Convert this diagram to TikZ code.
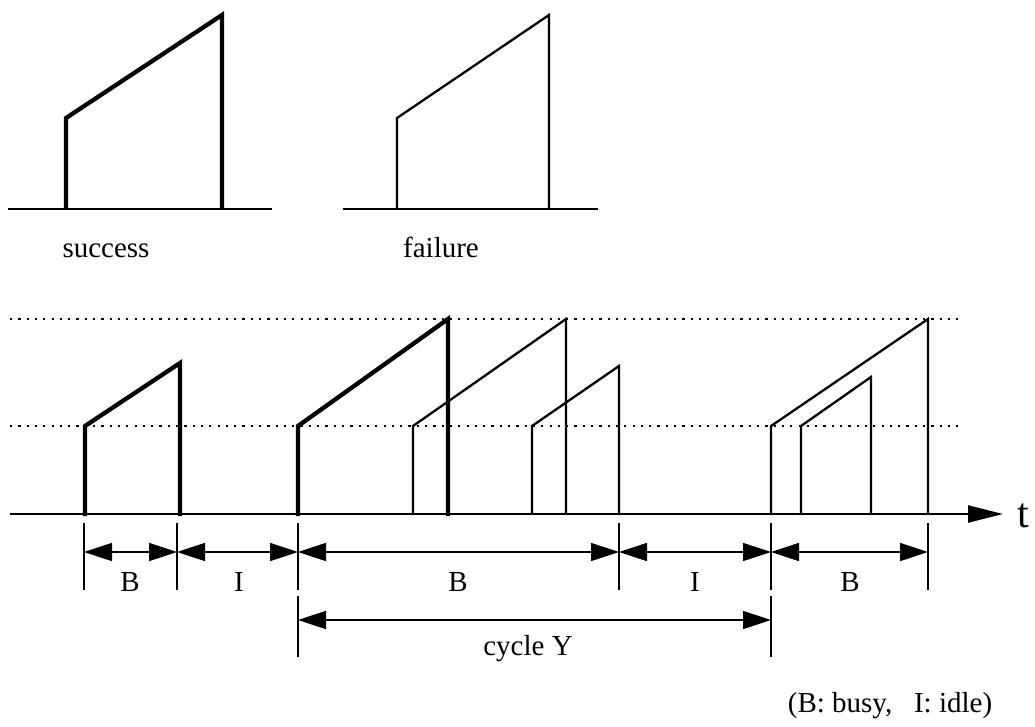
\documentclass[tikz,border=0pt]{standalone}
\usepackage{fontspec}
\setmainfont{Liberation Serif}
\usetikzlibrary{arrows.meta}
\begin{document}
\begin{tikzpicture}[x=1pt,y=-1pt,
  thickpulse/.style={line width=4.3pt, line join=miter},
  thinpulse/.style={line width=2.3pt, line join=miter},
  axisline/.style={line width=2.3pt},
  dotline/.style={line width=2pt, dash pattern=on 2.2pt off 6.1pt},
  tickline/.style={line width=1.6pt},
  dimarrow/.style={line width=1.6pt, {Triangle[length=28pt,width=18pt]}-{Triangle[length=28pt,width=18pt]}},
  lbl/.style={font=\fontsize{29}{34}\selectfont, inner sep=0pt, anchor=base}
]
\useasboundingbox (0,0) rectangle (1035,726);

% ---- top: success / failure ----
\draw[axisline] (8,209) -- (272,209);
\draw[thickpulse] (66,209) -- (66,118) -- (222,15) -- (222,209);
\node[lbl] (succ) at (106,257) {success};

\draw[axisline] (343,209) -- (598,209);
\draw[thinpulse] (397,209) -- (397,118) -- (549,15) -- (549,209);
\node[lbl] (fail) at (441,257) {failure};

% ---- dotted levels ----
\draw[dotline] (10,319) -- (962,319);
\draw[dotline] (10,426) -- (962,426);

% ---- time axis ----
\coordinate (ax0) at (10,514);
\coordinate (ax1) at (1003,514);
\draw[line width=2.3pt, -{Triangle[length=35pt,width=17pt]}] (ax0) -- (ax1);
\node[font=\fontsize{42}{46}\selectfont, inner sep=0pt, anchor=base] (t) at (1023,527) {t};

% ---- pulses ----
\draw[thickpulse] (85,516) -- (85,426) -- (180,363) -- (180,516);
\draw[thickpulse] (298,516) -- (298,426) -- (448,319) -- (448,516);
\draw[thinpulse] (413,514) -- (413,426) -- (566,319) -- (566,514);
\draw[thinpulse] (532,514) -- (532,426) -- (619,366) -- (619,514);
\draw[thinpulse] (771,514) -- (771,426) -- (928,319) -- (928,514);
\draw[thinpulse] (801,514) -- (801,426) -- (871,377) -- (871,514);

% ---- ticks and busy/idle periods ----
\foreach \n/\x in {a/84,b/177,c/298,d/619,e/771,f/928}{
  \coordinate (tt\n) at (\x,523);
  \coordinate (tb\n) at (\x,590);
  \coordinate (m\n) at (\x,552);
  \draw[tickline] (tt\n) -- (tb\n);
}
\draw[dimarrow] (ma) -- (mb);
\draw[dimarrow] (mb) -- (mc);
\draw[dimarrow] (mc) -- (md);
\draw[dimarrow] (md) -- (me);
\draw[dimarrow] (me) -- (mf);

\node[lbl] (B1) at (130,591) {B};
\node[lbl] (I1) at (239,591) {I};
\node[lbl] (B2) at (458,591) {B};
\node[lbl] (I2) at (695,591) {I};
\node[lbl] (B3) at (850,591) {B};

% ---- cycle ----
\coordinate (cl0) at (298,596);
\coordinate (cl1) at (298,657);
\coordinate (cr0) at (771,596);
\coordinate (cr1) at (771,657);
\draw[tickline] (cl0) -- (cl1);
\draw[tickline] (cr0) -- (cr1);
\coordinate (ca) at (298,620);
\coordinate (cb) at (771,620);
\draw[dimarrow] (ca) -- (cb);
\node[lbl] (cyc) at (528,655) {cycle Y};

\node[lbl] (legend) at (890,712) {(B: busy,\ \ \ I: idle)};
\end{tikzpicture}
\end{document}
